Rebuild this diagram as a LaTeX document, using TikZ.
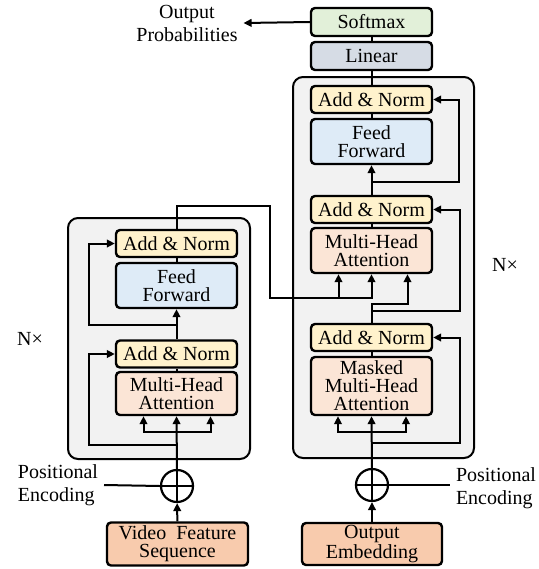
\documentclass[tikz,border=0pt]{standalone}
\usepackage{fontspec}
\setmainfont{Liberation Serif}
\usetikzlibrary{arrows.meta,positioning}
\definecolor{annorm}{HTML}{FFF2CC}
\definecolor{ffwd}{HTML}{DEEBF7}
\definecolor{mha}{HTML}{FBE5D6}
\definecolor{embed}{HTML}{F8CBAD}
\definecolor{smax}{HTML}{E2F0D9}
\definecolor{lin}{HTML}{D6DCE5}
\definecolor{stack}{HTML}{F2F2F2}
\tikzset{
  blk/.style={draw, line width=1.2pt, rounded corners=2pt, inner sep=0pt,
    minimum width=60.5pt, align=center, font=\fontsize{10}{9}\selectfont},
  addnorm/.style={blk, fill=annorm, minimum height=13.5pt},
  feedfwd/.style={blk, fill=ffwd, minimum height=22.5pt},
  attn/.style={blk, fill=mha, minimum height=22pt},
  embbox/.style={blk, fill=embed, minimum width=70.5pt, minimum height=21.5pt},
  sumnode/.style={draw, circle, line width=1.1pt, minimum size=16pt, inner sep=0pt},
  lbl/.style={inner sep=0pt, font=\fontsize{10}{11.5}\selectfont}
}
\begin{document}
\begin{tikzpicture}[x=0.5pt, y=-0.5pt, line width=1pt, >={Triangle[length=4pt,width=3.8pt]}]
\useasboundingbox (0,0) rectangle (538,569);

% the two stacks
\draw[fill=stack, rounded corners=5pt] (68,218) rectangle (250,459);
\draw[fill=stack, rounded corners=5pt] (293,77) rectangle (474,458);

% encoder
\node (Video) [embbox] at (177.5,544) {Video~ Feature\\Sequence};
\node (EncAdd) [sumnode] at (177,486) {};
\node (EncMHA) [attn, minimum height=21.5pt] at (176.5,393.5) {Multi-Head\\Attention};
\node (EncAN1) [addnorm] at (176.5,354) {Add \& Norm};
\node (EncFF) [feedfwd] at (176.5,285.5) {Feed\\Forward};
\node (EncAN2) [addnorm] at (176.5,243.5) {Add \& Norm};
\node (EncN) [lbl] at (30,339) {N×};
\node (PELeft) [lbl, anchor=west, align=left] at (17,485) {Positional\\Encoding};

% decoder
\node (OutEmb) [embbox, minimum width=70pt, minimum height=21pt] at (372,544) {Output\\Embedding};
\node (DecAdd) [sumnode] at (372,485) {};
\node (DecMMHA) [attn, minimum height=29pt] at (371.5,386) {Masked\\Multi-Head\\Attention};
\node (DecAN1) [addnorm] at (371.5,337.5) {Add \& Norm};
\node (DecMHA) [attn, minimum height=22.5pt] at (371.5,250.5) {Multi-Head\\Attention};
\node (DecAN2) [addnorm] at (371.5,209.5) {Add \& Norm};
\node (DecFF) [feedfwd] at (371.5,141.5) {Feed\\Forward};
\node (DecAN3) [addnorm] at (371.5,99.5) {Add \& Norm};
\node (Linear) [blk, fill=lin, minimum height=14pt] at (371.5,56) {Linear};
\node (Softmax) [blk, fill=smax, minimum height=14pt] at (371.5,22) {Softmax};
\node (DecN) [lbl] at (505,265) {N×};
\node (PERight) [lbl, anchor=west, align=left] at (455,488) {Positional\\Encoding};
\node (OutProb) [lbl, align=center] at (187,23) {Output\\Probabilities};

% encoder connectors
\draw (EncAdd.north) -- (EncAdd.south) (EncAdd.west) -- (EncAdd.east);
\draw[->] (Video) -- (EncAdd);
\draw ([xshift=2.5pt]PELeft.east) -- (EncAdd.west);
\draw[->] (EncAdd.north) -- (EncMHA.south);
\draw[->] (EncAdd.north) ++(0,-37) -| ([xshift=-16.5pt]EncMHA.south);
\draw[->] (EncAdd.north) ++(0,-37) -| ([xshift=17pt]EncMHA.south);
\draw[->] (EncAdd.north) ++(0,-24) -- ++(-88,0) |- (EncAN1.west);
\draw (EncMHA) -- (EncAN1);
\draw[->] (EncAN1) -- (EncFF);
\draw[->] (EncAN1.north) ++(0,-14) -- ++(-88,0) |- (EncAN2.west);
\draw (EncFF) -- (EncAN2);
\coordinate (Cross1) at (270,206);
\coordinate (Cross2) at (270,298);
\draw[->] (EncAN2.north) |- (Cross1) -- (Cross2) -| (DecMHA.south);
\draw[->] (Cross2) -| ([xshift=-16.5pt]DecMHA.south);

% decoder connectors
\draw (DecAdd.north) -- (DecAdd.south) (DecAdd.west) -- (DecAdd.east);
\draw[->] (OutEmb) -- (DecAdd);
\draw (DecAdd.east) -- ([xshift=-2.5pt]PERight.west |- DecAdd.east);
\draw[->] (DecAdd.north) -- (DecMMHA.south);
\draw[->] (DecAdd.north) ++(0,-36) -| ([xshift=-16.75pt]DecMMHA.south);
\draw[->] (DecAdd.north) ++(0,-36) -| ([xshift=17.25pt]DecMMHA.south);
\draw[->] (DecAdd.north) ++(0,-25) -- ++(88,0) |- (DecAN1.east);
\draw (DecMMHA) -- (DecAN1);
\draw[->] (DecAN1.north) -- ++(0,-19) -| ([xshift=18pt]DecMHA.south);
\draw[->] (DecAN1.north) ++(0,-12) -- ++(88,0) |- (DecAN2.east);
\draw (DecMHA) -- (DecAN2);
\draw[->] (DecAN2) -- (DecFF);
\draw[->] (DecAN2.north) ++(0,-13) -- ++(87,0) |- (DecAN3.east);
\draw (DecFF) -- (DecAN3);
\draw (DecAN3) -- (Linear);
\draw (Linear) -- (Softmax);
\draw[->] (Softmax.west) -- ([xshift=2.5pt]OutProb.east);
\end{tikzpicture}
\end{document}
